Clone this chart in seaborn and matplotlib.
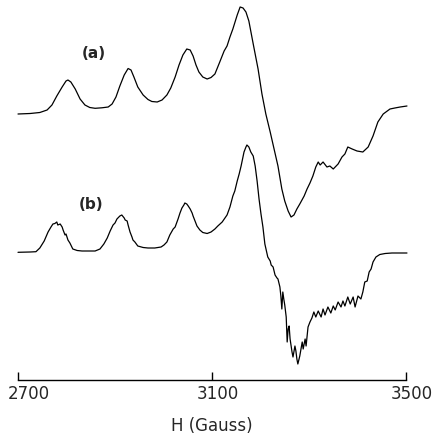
import numpy as np
import pandas as pd
import matplotlib
matplotlib.use("Agg")
import matplotlib.pyplot as plt
import matplotlib.transforms as mtransforms
import seaborn as sns

# EPR spectra, field in Gauss, signal in arbitrary units (relative to each baseline)
field_a = [2700, 2725, 2745, 2760, 2770, 2780, 2791, 2799, 2803, 2809,
           2818, 2828, 2838, 2848, 2859, 2873, 2886, 2894, 2902, 2910,
           2919, 2927, 2933, 2939, 2947, 2958, 2968, 2976, 2987, 2997,
           3007, 3015, 3024, 3032, 3040, 3048, 3055, 3061, 3067, 3073,
           3081, 3090, 3098, 3106, 3116, 3125, 3131, 3137, 3143, 3152,
           3158, 3164, 3170, 3176, 3185, 3195, 3203, 3211, 3220, 3228,
           3236, 3244, 3250, 3257, 3263, 3269, 3275, 3281, 3290, 3296,
           3302, 3308, 3314, 3319, 3323, 3329, 3337, 3343, 3350, 3360,
           3368, 3374, 3380, 3389, 3399, 3411, 3422, 3432, 3442, 3453,
           3467, 3477, 3488, 3502]
signal_a = [0, 0.5, 1.5, 4, 9, 18, 27, 33, 34, 32,
            25, 15, 9, 6.5, 5.7, 6.2, 7, 10, 17, 28,
            39, 45.5, 44, 37, 27, 19, 14.5, 12.5, 12, 14,
            19, 26, 37, 49, 59, 65, 64, 58, 49, 42,
            37, 35, 36.5, 40, 52, 63, 68, 77, 85, 99,
            107, 106, 102, 93, 70, 45, 20, 0, -18, -35,
            -52, -75, -87, -97, -103, -101, -95, -90, -82, -75,
            -69, -62, -53, -48, -51, -48, -53, -52, -55, -50,
            -43, -40, -33, -35, -37, -38, -33, -22, -8, 0,
            5, 6, 7, 8]

field_b = [2700, 2725, 2737, 2745, 2754, 2762, 2768, 2772, 2776, 2780,
           2782, 2787, 2791, 2793, 2797, 2799, 2803, 2807, 2813, 2822,
           2832, 2848, 2859, 2869, 2877, 2884, 2890, 2896, 2900, 2904,
           2908, 2910, 2914, 2919, 2921, 2925, 2927, 2931, 2935, 2937,
           2941, 2947, 2958, 2968, 2982, 2995, 3001, 3007, 3013, 3020,
           3024, 3030, 3034, 3038, 3042, 3044, 3048, 3051, 3055, 3059,
           3061, 3065, 3069, 3075, 3081, 3090, 3098, 3106, 3112, 3121,
           3131, 3137, 3143, 3147, 3152, 3156, 3158, 3160, 3164, 3166,
           3170, 3172, 3176, 3180, 3185, 3189, 3193, 3197, 3201, 3205,
           3209, 3215, 3220, 3222, 3226, 3230, 3234, 3236, 3240, 3242,
           3244, 3246, 3248, 3250, 3253, 3255, 3257, 3259, 3261, 3265,
           3267, 3271, 3273, 3275, 3277, 3281, 3286, 3288, 3292, 3294,
           3298, 3302, 3306, 3308, 3310, 3314, 3319, 3325, 3329, 3333,
           3339, 3345, 3350, 3354, 3360, 3366, 3370, 3374, 3380, 3385,
           3391, 3395, 3401, 3407, 3411, 3415, 3420, 3424, 3428, 3432,
           3438, 3446, 3457, 3471, 3488, 3502]
signal_b = [0.7, 1, 1.3, 5, 12, 21, 26, 29, 29.5, 31,
            28, 29, 26, 23, 18, 19, 13, 10, 4, 2.5,
            2, 2, 2, 4, 9, 15, 22, 28, 30, 34,
            36, 37, 38, 35, 33, 32, 28, 21, 16, 13,
            11, 7, 5.5, 5, 5, 6, 8, 11, 18, 24,
            26, 34, 40, 45, 48, 50, 49, 47, 44, 40,
            37, 32, 27, 23, 20.5, 19.5, 21, 24, 27, 31,
            38, 46, 57, 62, 72, 79, 83, 87, 96, 101,
            106, 108, 106, 101, 97, 87, 72, 54, 39, 26,
            9, -4, -8, -12, -14, -22, -25, -26, -34, -43,
            -56, -39, -46, -52, -64, -89, -76, -73, -86, -99,
            -104, -93, -98, -106, -111, -103, -89, -96, -86, -93,
            -74, -69, -65, -62, -59, -64, -58, -64, -56, -62,
            -54, -60, -53, -57, -49, -54, -48, -53, -44, -51,
            -44, -54, -43, -46, -39, -29, -28, -19, -16, -9,
            -4, -1.5, -0.5, 0, 0, 0]

tick_vals = [2700, 3100, 3500]
trace_labels = ["(a)", "(b)"]

sns.set_style("white")
plt.rcParams['font.family'] = ['DejaVu Sans']

fig = plt.figure(figsize=(4.35, 4.35), dpi=100)
ax = fig.add_axes([18 / 435, 1 - 381 / 435, 388 / 435, 381 / 435])

# vertical offsets to stack the two traces
sns.lineplot(x=field_a, y=np.array(signal_a) + 266, ax=ax, color='black',
             linewidth=0.9, clip_on=False)
sns.lineplot(x=field_b, y=np.array(signal_b) + 127, ax=ax, color='black',
             linewidth=0.9, clip_on=False)

ax.text(2856, 328, trace_labels[0], fontsize=11, fontweight='bold', ha='center', va='center')
ax.text(2850, 176, trace_labels[1], fontsize=11, fontweight='bold', ha='center', va='center')

ax.set_xlim(2700, 3500)
ax.set_ylim(0, 381)
ax.set_xticks(tick_vals)
ax.set_xticklabels([str(t) for t in tick_vals], fontsize=12)
ax.set_yticks([])
ax.tick_params(axis='x', bottom=True, direction='in', length=6, width=1, pad=3, color='black')
# labels in the original sit a little to the right of their ticks
for lab, dx in zip(ax.get_xticklabels(), [11, 6, 6]):
    lab.set_transform(lab.get_transform() + mtransforms.ScaledTranslation(dx / 100, 0, fig.dpi_scale_trans))
for s in ['left', 'top', 'right']:
    ax.spines[s].set_visible(False)
ax.spines['bottom'].set_color('black')
ax.spines['bottom'].set_linewidth(1)
ax.set_xlabel('H (Gauss)', fontsize=12, labelpad=10)
ax.set_facecolor('none')

fig.savefig('out.png', dpi=100)
